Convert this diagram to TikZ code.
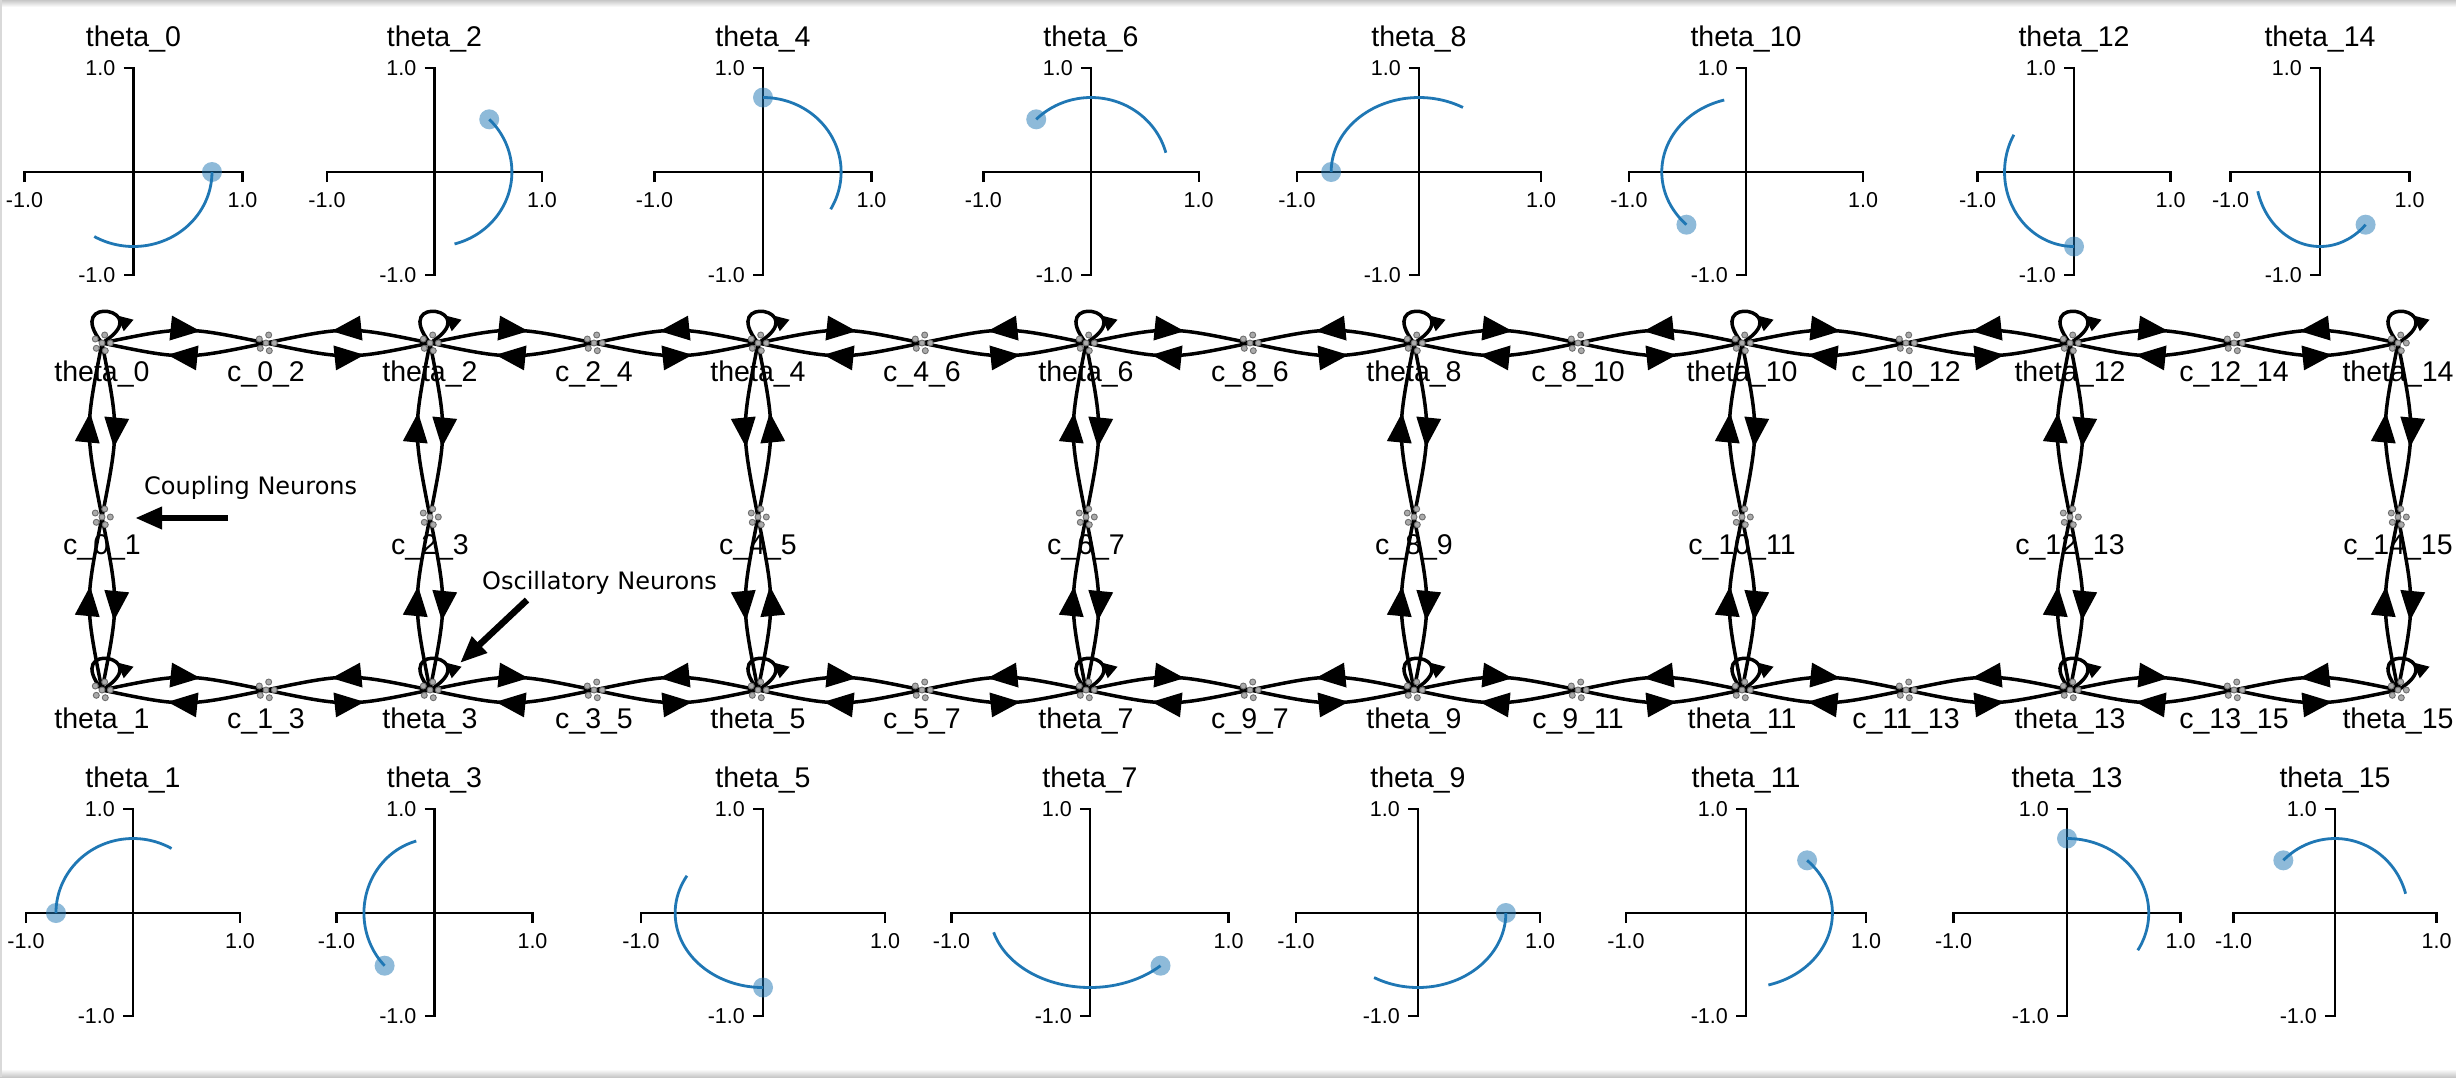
\documentclass[tikz,border=0pt]{standalone}
\usepackage{fontspec}
\setmainfont{Liberation Sans}
\newfontfamily\annfont{DejaVu Sans}
\usetikzlibrary{arrows.meta,decorations.markings,calc}
\definecolor{mplblue}{HTML}{1F77B4}
\definecolor{dotfill}{HTML}{AAAAAA}
\definecolor{dotedge}{HTML}{6E6E6E}
\newcommand\lblfont{\fontsize{28.5}{32}\selectfont}
\newcommand\tickfont{\fontsize{21.5}{24}\selectfont}
\newcommand\annsize{\annfont\fontsize{24}{28}\selectfont}
\tikzset{
 gedge/.style={line width=3.5pt, postaction={decorate},
   decoration={markings, mark=at position 0.6 with {\arrow{Triangle[length=30pt,width=24pt]}}}},
 gloop/.style={line width=3.5pt, postaction={decorate},
   decoration={markings, mark=at position 0.4 with {\arrow{Triangle[length=16pt,width=14pt]}}}},
 glabel/.style={font=\lblfont, anchor=base, inner sep=0pt},
 axisline/.style={line width=2.2pt},
 ticklbl/.style={font=\tickfont, inner sep=0pt},
 ptitle/.style={font=\lblfont, anchor=base, inner sep=0pt},
 trace/.style={mplblue, line width=2.8pt},
 bigarrow/.style={line width=6.5pt, -{Triangle[length=27pt,width=21pt]}},
 gdot/.style={fill=dotfill, draw=dotedge, line width=0.9pt},
 annot/.style={font=\annsize, anchor=base west, inner sep=0pt},
}
\newcommand\gcon[3]{\draw[gedge] (#1) .. controls ($(#1)!0.5!(#2)+(#3)$) .. (#2);}
\newcommand\gselfloop[1]{\draw[gloop] (#1) .. controls +(56,-34) and +(-40,-50) .. (#1);}
\newcommand\gcluster[1]{\foreach \dx/\dy in {2.7/-8,-6.7/-4,0/0,8.3/0,-5.7/5.3,3.3/7.7}
  {\draw[gdot] ($(#1)+(\dx,\dy)$) circle (3pt);}}
\newcommand\oscplot[6]{%
 \begin{scope}[shift={(#3,#4)}]
  \draw[axisline] (-#5,10) -- (-#5,0) -- (#5,0) -- (#5,10);
  \draw[axisline] (-10,-104) -- (0,-104) -- (0,103) -- (-10,103);
  \node[ptitle] (#1-title) at (0,-126) {#2};
  \node[ticklbl, anchor=base east] (#1-ytop) at (-18,-96.5) {1.0};
  \node[ticklbl, anchor=base east] (#1-ybot) at (-18,110.5) {-1.0};
  \node[ticklbl, anchor=base] (#1-xl) at (-#5,35) {-1.0};
  \node[ticklbl, anchor=base] (#1-xr) at (#5,35) {1.0};
  \fill[mplblue, fill opacity=0.5] ({0.72*#5*cos(#6)},{-74.5*sin(#6)}) circle (10pt);
  \draw[trace] plot[domain=#6-120:#6, samples=60, smooth] ({0.72*#5*cos(\x)},{-74.5*sin(\x)});
 \end{scope}}
\begin{document}
\begin{tikzpicture}[x=1pt,y=-1pt]
\useasboundingbox (0,0) rectangle (2456,1077);
\fill[white] (0,0) rectangle (2456,1077);
\shade[top color=black!22, bottom color=white] (0,0) rectangle (2456,7);
\shade[top color=white, bottom color=black!22] (0,1069) rectangle (2456,1077);
\draw[black!15, line width=1.5pt] (0.75,0) -- (0.75,1077);

% ---------- phase plots ----------
\oscplot{p0}{theta\_0}{133.5}{172}{109}{0}
\oscplot{p2}{theta\_2}{434.5}{172}{107.5}{45}
\oscplot{p4}{theta\_4}{763}{172}{108.5}{90}
\oscplot{p6}{theta\_6}{1091}{172}{107.6}{135}
\oscplot{p8}{theta\_8}{1419}{172}{122}{180}
\oscplot{p10}{theta\_10}{1746}{172}{117}{225}
\oscplot{p12}{theta\_12}{2074}{172}{96.5}{270}
\oscplot{p14}{theta\_14}{2320}{172}{89.5}{315}
\oscplot{p1}{theta\_1}{133}{913}{107}{180}
\oscplot{p3}{theta\_3}{434.5}{913}{98}{225}
\oscplot{p5}{theta\_5}{763}{913}{122}{270}
\oscplot{p7}{theta\_7}{1090}{913}{138.5}{315}
\oscplot{p9}{theta\_9}{1418}{913}{122}{0}
\oscplot{p11}{theta\_11}{1746}{913}{120}{45}
\oscplot{p13}{theta\_13}{2067}{913}{113.5}{90}
\oscplot{p15}{theta\_15}{2335}{913}{101.5}{135}

% ---------- graph nodes ----------
\foreach \k/\e/\o in {0/0/1,1/2/3,2/4/5,3/6/7,4/8/9,5/10/11,6/12/13,7/14/15} {
  \coordinate (t\e) at ({102+328*\k},343);
  \coordinate (t\o) at ({102+328*\k},690);
  \coordinate (v\k) at ({102+328*\k},517);
}
\foreach \k in {0,...,6} {
  \coordinate (h\k) at ({266+328*\k},343);
  \coordinate (g\k) at ({266+328*\k},690);
}

% ---------- edges ----------
\foreach \k/\a/\b in {0/0/2,1/2/4,2/4/6,3/6/8,4/8/10,5/10/12,6/12/14} {
  \gcon{t\a}{h\k}{0,-17} \gcon{t\b}{h\k}{0,-17}
  \gcon{h\k}{t\a}{0,17}  \gcon{h\k}{t\b}{0,17}
}
\foreach \k/\a/\b in {0/1/3,1/3/5,2/5/7,3/7/9,4/9/11,5/11/13,6/13/15} {
  \gcon{t\a}{g\k}{0,-17} \gcon{t\b}{g\k}{0,-17}
  \gcon{g\k}{t\a}{0,17}  \gcon{g\k}{t\b}{0,17}
}
\foreach \k/\e/\o in {0/0/1,1/2/3,3/6/7,4/8/9,5/10/11,6/12/13,7/14/15} {
  \gcon{v\k}{t\e}{-17,0} \gcon{t\o}{v\k}{-17,0}
  \gcon{t\e}{v\k}{17,0}  \gcon{v\k}{t\o}{17,0}
}
\gcon{t4}{v2}{-17,0} \gcon{v2}{t5}{-17,0}
\gcon{v2}{t4}{17,0}  \gcon{t5}{v2}{17,0}

% ---------- self loops ----------
\foreach \n in {0,...,15} { \gselfloop{t\n} }

% ---------- node glyphs ----------
\foreach \n in {0,...,15} { \gcluster{t\n} }
\foreach \k in {0,...,7} { \gcluster{v\k} }
\foreach \k in {0,...,6} { \gcluster{h\k} \gcluster{g\k} }

% ---------- labels ----------
\foreach \n in {0,...,15} { \node[glabel] (lt\n) at ($(t\n)+(0,38)$) {theta\_\n}; }
\foreach \k/\txt in {0/c\_0\_2,1/c\_2\_4,2/c\_4\_6,3/c\_8\_6,4/c\_8\_10,5/c\_10\_12,6/c\_12\_14}
  { \node[glabel] (lh\k) at ($(h\k)+(0,38)$) {\txt}; }
\foreach \k/\txt in {0/c\_1\_3,1/c\_3\_5,2/c\_5\_7,3/c\_9\_7,4/c\_9\_11,5/c\_11\_13,6/c\_13\_15}
  { \node[glabel] (lg\k) at ($(g\k)+(0,38)$) {\txt}; }
\foreach \k/\e/\o in {0/0/1,1/2/3,2/4/5,3/6/7,4/8/9,5/10/11,6/12/13,7/14/15}
  { \node[glabel] (lv\k) at ($(v\k)+(0,37)$) {c\_\e\_\o}; }

% ---------- annotations ----------
\coordinate (cpS) at (228,518);
\coordinate (cpE) at (135,518);
\draw[bigarrow] (cpS) -- (cpE);
\node[annot] (annC) at (144,494.5) {Coupling Neurons};
\coordinate (osS) at (527,600);
\coordinate (osE) at (460,663);
\draw[bigarrow] (osS) -- (osE);
\node[annot] (annO) at (482,589) {Oscillatory Neurons};
\end{tikzpicture}
\end{document}
